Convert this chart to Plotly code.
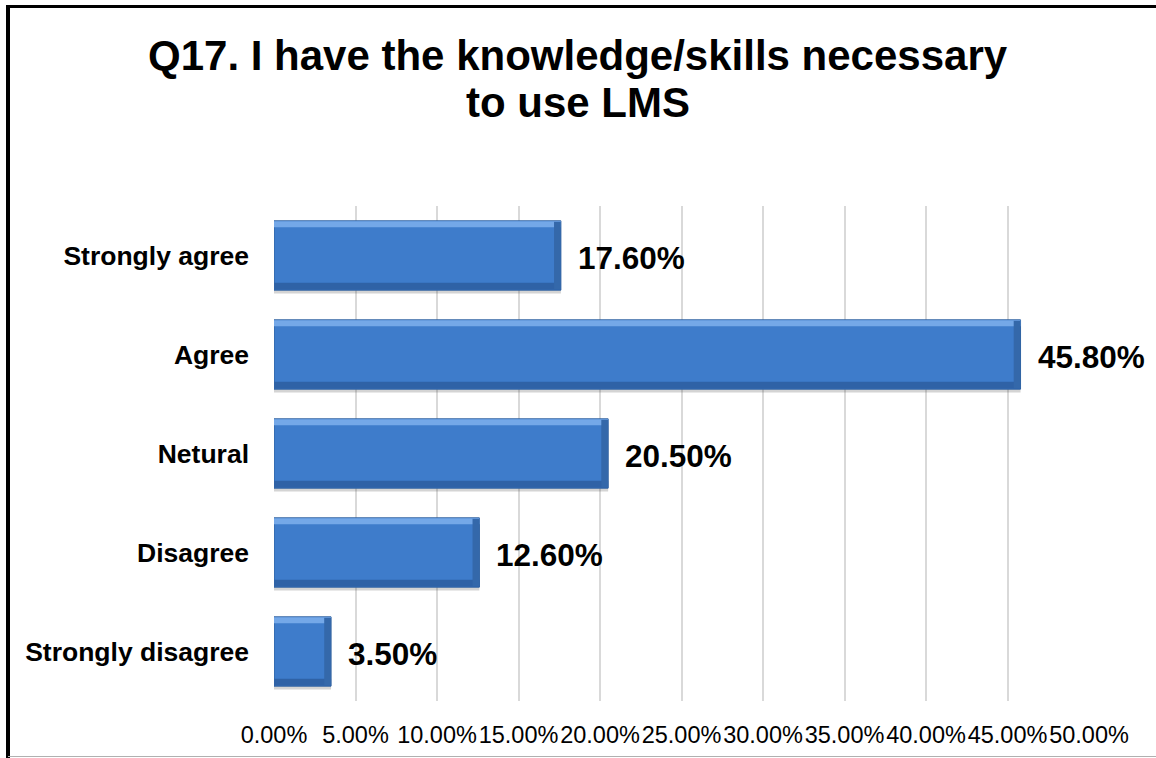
import plotly.graph_objects as go

# Survey responses (share of respondents)
categories = ["Strongly agree", "Agree", "Netural", "Disagree", "Strongly disagree"]
percentages = [17.6, 45.8, 20.5, 12.6, 3.5]
tick_values = [0, 5, 10, 15, 20, 25, 30, 35, 40, 45, 50]
tick_labels = [f"{v:.2f}%" for v in tick_values]

title_lines = ["Q17. I have the knowledge/skills necessary", "to use LMS"]

W, H = 1156, 758
L, R, T, B = 274, 67, 206, 57
PW, PH = W - L - R, H - T - B
FONT = "Liberation Sans, Arial, sans-serif"


def px_x(x):
    return (x - L) / PW


def px_y(y):
    return (H - B - y) / PH


fig = go.Figure()

BAR_W = 0.70
HALF = BAR_W / 2
EDGE = 0.42  # width (in %) of the darker right-hand bevel

# soft drop shadow under each bar
fig.add_trace(go.Bar(
    y=categories, x=percentages, orientation="h",
    width=BAR_W, offset=-HALF + 0.035,
    marker=dict(color="rgba(60,60,60,0.22)", line=dict(width=0)),
    hoverinfo="skip", showlegend=False,
))
# main bar body
fig.add_trace(go.Bar(
    y=categories, x=percentages, orientation="h",
    width=BAR_W, offset=-HALF,
    marker=dict(color="#3e7ccb", line=dict(color="#2d5e9c", width=1)),
    showlegend=False,
))
# light upper bevel
fig.add_trace(go.Bar(
    y=categories, x=percentages, orientation="h",
    width=0.06, offset=-HALF + 0.005,
    marker=dict(color="#74a8e8", line=dict(width=0)),
    hoverinfo="skip", showlegend=False,
))
# dark lower bevel
fig.add_trace(go.Bar(
    y=categories, x=percentages, orientation="h",
    width=0.07, offset=HALF - 0.075,
    marker=dict(color="#2f62a6", line=dict(width=0)),
    hoverinfo="skip", showlegend=False,
))
# dark right-hand bevel
fig.add_trace(go.Bar(
    y=categories, x=[EDGE] * len(percentages), base=[p - EDGE for p in percentages],
    orientation="h", width=BAR_W - 0.02, offset=-HALF + 0.01,
    marker=dict(color="#3468aa", line=dict(width=0)),
    hoverinfo="skip", showlegend=False,
))

# value labels next to each bar
for cat, val in zip(categories, percentages):
    fig.add_annotation(
        x=val, y=cat, xref="x", yref="y",
        text=f"<b>{val:.2f}%</b>", showarrow=False,
        xanchor="left", yanchor="middle", xshift=15, yshift=-2,
        font=dict(family=FONT, size=31.5, color="#000000"),
    )

# two-line title, centred on the page
for line, yc in zip(title_lines, [55, 102.5]):
    fig.add_annotation(
        x=px_x(W / 2), y=px_y(yc), xref="paper", yref="paper",
        text=f"<b>{line}</b>", showarrow=False, borderpad=0,
        xanchor="center", yanchor="middle",
        font=dict(family=FONT, size=42, color="#000000"),
    )

# frame around the chart
shapes = [
    dict(type="line", xref="paper", yref="paper",
         x0=px_x(6), x1=px_x(W + 5), y0=px_y(6.5), y1=px_y(6.5),
         line=dict(color="#000000", width=3)),
    dict(type="line", xref="paper", yref="paper",
         x0=px_x(8), x1=px_x(8), y0=px_y(5), y1=px_y(H + 5),
         line=dict(color="#000000", width=4)),
    dict(type="line", xref="paper", yref="paper",
         x0=px_x(8), x1=px_x(W + 5), y0=px_y(756.5), y1=px_y(756.5),
         line=dict(color="#b0b0b0", width=1)),
]

fig.update_layout(
    width=W, height=H,
    margin=dict(l=L, r=R, t=T, b=B, pad=0, autoexpand=False),
    paper_bgcolor="#ffffff", plot_bgcolor="#ffffff",
    barmode="overlay", bargap=0.3,
    shapes=shapes,
    showlegend=False,
    font=dict(family=FONT, color="#000000"),
    xaxis=dict(
        range=[0, 50], tickvals=tick_values, ticktext=tick_labels,
        showgrid=True, gridcolor="#d9d9d9", gridwidth=1.5,
        zeroline=False, showline=False, ticks="",
        tickangle=0, automargin=False,
        tickfont=dict(family=FONT, size=23.5, color="#000000"),
        ticklabelstandoff=17,
    ),
    yaxis=dict(
        categoryorder="array", categoryarray=categories, autorange="reversed",
        showgrid=False, zeroline=False, showline=False, ticks="",
        automargin=False,
        tickfont=dict(family=FONT, size=26.5, color="#000000", weight="bold"),
        ticklabelstandoff=24,
    ),
)

fig.write_html("out.html")
